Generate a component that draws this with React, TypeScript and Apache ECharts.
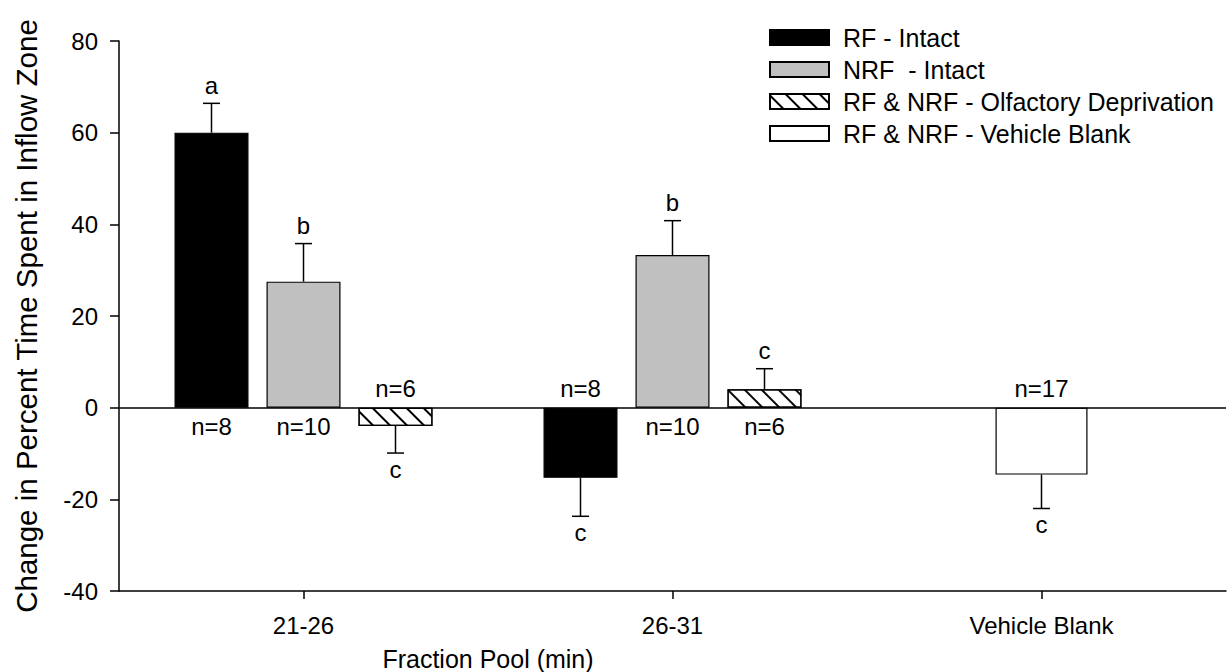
import React, { useEffect, useRef } from 'react';
import * as echarts from 'echarts';

// ---- data ----
const categories = ['21-26', '26-31', 'Vehicle Blank'];
const seriesNames = [
  'RF - Intact',
  'NRF  - Intact',
  'RF & NRF - Olfactory Deprivation',
  'RF & NRF - Vehicle Blank',
];
const rfIntact = [60.0, -15.3, null];
const nrfIntact = [27.5, 33.3, null];
const olfactoryDeprivation = [-4.0, 4.0, null];
const vehicleBlank = [null, null, -14.6];

const rfErr = [6.4, 8.4, null];
const nrfErr = [8.3, 7.5, null];
const odErr = [5.9, 4.5, null];
const vbErr = [null, null, 7.4];

const rfLetters = ['a', 'c', ''];
const nrfLetters = ['b', 'b', ''];
const odLetters = ['c', 'c', ''];
const vbLetters = ['', '', 'c'];

const rfN = ['n=8', 'n=8', ''];
const nrfN = ['n=10', 'n=10', ''];
const odN = ['n=6', 'n=6', ''];
const vbN = ['', '', 'n=17'];

const Y_MIN = -40;
const Y_MAX = 80;
const Y_STEP = 20;

const yTitle = 'Change in Percent Time Spent in Inflow Zone';
const xTitle = 'Fraction Pool (min)';

// ---- layout / style constants ----
const FONT = '"Liberation Sans", Arial, Helvetica, sans-serif';
const BAR_W = 74;
const BAR_GAP = 18;
const VB_BAR_W = 92;
const CAP = 17;
const GRID = { left: 119, right: 6, top: 41, bottom: 81 };

type Ann = { cat: number; value: number; err: number; letter: string; n: string; slot: number };

function buildAnnotations(): Ann[] {
  const groups = [
    { values: rfIntact, err: rfErr, letters: rfLetters, ns: rfN, slot: -1 },
    { values: nrfIntact, err: nrfErr, letters: nrfLetters, ns: nrfN, slot: 0 },
    { values: olfactoryDeprivation, err: odErr, letters: odLetters, ns: odN, slot: 1 },
    { values: vehicleBlank, err: vbErr, letters: vbLetters, ns: vbN, slot: 0 },
  ];
  const out: Ann[] = [];
  groups.forEach((g) =>
    g.values.forEach((v, i) => {
      if (v == null) return;
      out.push({ cat: i, value: v as number, err: (g.err[i] as number) || 0, letter: g.letters[i], n: g.ns[i], slot: g.slot });
    })
  );
  return out;
}

export default function App() {
  const ref = useRef<HTMLDivElement>(null);
  useEffect(() => {
    if (!ref.current) return;
    const chart = echarts.init(ref.current, null, { renderer: 'svg' });
    const annotations = buildAnnotations();
    const borderStyle = { borderColor: '#000', borderWidth: 1.2 };

    const option: any = {
      animation: false,
      backgroundColor: '#fff',
      textStyle: { fontFamily: FONT },
      grid: { ...GRID, containLabel: false },
      legend: {
        orient: 'vertical',
        left: 769,
        top: 25,
        padding: 0,
        itemWidth: 59,
        itemHeight: 15,
        itemGap: 7,
        icon: 'rect',
        data: seriesNames,
        textStyle: { fontSize: 25, color: '#000', fontFamily: FONT, padding: [0, 0, 0, 9] },
        selectedMode: false,
      },
      xAxis: [
        {
          type: 'category',
          data: categories,
          position: 'bottom',
          axisLine: { show: true, onZero: false, lineStyle: { color: '#000', width: 1.5 } },
          axisTick: { show: true, alignWithLabel: true, length: 8, lineStyle: { color: '#000', width: 1.5 } },
          axisLabel: { color: '#000', fontSize: 24, fontFamily: FONT, margin: 22 },
          splitLine: { show: false },
        },
        {
          type: 'category',
          data: categories,
          show: false,
          gridIndex: 0,
        },
      ],
      yAxis: {
        type: 'value',
        min: Y_MIN,
        max: Y_MAX,
        interval: Y_STEP,
        axisLine: { show: true, lineStyle: { color: '#000', width: 1.5 } },
        axisTick: { show: true, length: 9, lineStyle: { color: '#000', width: 1.5 } },
        axisLabel: { color: '#000', fontSize: 24, fontFamily: FONT, margin: 21 },
        splitLine: { show: false },
      },
      series: [
        {
          name: seriesNames[0],
          type: 'bar',
          xAxisIndex: 0,
          data: rfIntact,
          barWidth: BAR_W,
          barGap: `${(BAR_GAP / BAR_W) * 100}%`,
          itemStyle: { color: '#000', ...borderStyle },
          markLine: {
            silent: true,
            symbol: ['none', 'none'],
            label: { show: false },
            lineStyle: { color: '#000', type: 'solid', width: 1.5 },
            data: [{ yAxis: 0 }],
          },
        },
        {
          name: seriesNames[1],
          type: 'bar',
          xAxisIndex: 0,
          data: nrfIntact,
          barWidth: BAR_W,
          barGap: `${(BAR_GAP / BAR_W) * 100}%`,
          itemStyle: { color: '#c0c0c0', ...borderStyle },
        },
        {
          name: seriesNames[2],
          type: 'bar',
          xAxisIndex: 0,
          data: olfactoryDeprivation,
          barWidth: BAR_W,
          barGap: `${(BAR_GAP / BAR_W) * 100}%`,
          itemStyle: {
            color: '#fff',
            ...borderStyle,
            decal: {
              symbol: 'rect',
              symbolSize: 1,
              dashArrayX: [1, 0],
              dashArrayY: [1.5, 9.5],
              rotation: Math.PI / 4,
              color: '#000',
              backgroundColor: '#fff',
            },
          },
        },
        {
          name: seriesNames[3],
          type: 'bar',
          xAxisIndex: 1,
          data: vehicleBlank,
          barWidth: VB_BAR_W,
          itemStyle: { color: '#fff', ...borderStyle },
        },
        {
          type: 'custom',
          xAxisIndex: 0,
          yAxisIndex: 0,
          z: 10,
          silent: true,
          encode: { x: 0, y: 1 },
          data: annotations.map((a) => [a.cat, a.value]),
          renderItem: (params: any, api: any) => {
            const a = annotations[params.dataIndex];
            const sign = a.value >= 0 ? 1 : -1;
            const base = api.coord([a.cat, 0]);
            const x = base[0] + a.slot * (BAR_W + BAR_GAP);
            const y0 = base[1];
            const yv = api.coord([a.cat, a.value])[1];
            const ye = api.coord([a.cat, a.value + sign * a.err])[1];
            const ls = { stroke: '#000', lineWidth: 1.5 };
            const textStyle = {
              fontSize: 24,
              fontFamily: FONT,
              fill: '#000',
              align: 'center',
              verticalAlign: 'middle',
            };
            return {
              type: 'group',
              children: [
                { type: 'line', shape: { x1: x, y1: yv, x2: x, y2: ye }, style: ls },
                { type: 'line', shape: { x1: x - CAP / 2, y1: ye, x2: x + CAP / 2, y2: ye }, style: ls },
                {
                  type: 'text',
                  style: { ...textStyle, text: a.letter, x, y: sign > 0 ? ye - 18 : ye + 16 },
                },
                {
                  type: 'text',
                  style: { ...textStyle, text: a.n, x, y: y0 + sign * 19 },
                },
              ],
            };
          },
        },
      ],
      graphic: [
        {
          type: 'text',
          x: 26,
          y: 316,
          rotation: Math.PI / 2,
          style: {
            text: yTitle,
            fontSize: 29.5,
            fontFamily: FONT,
            fill: '#000',
            textAlign: 'center',
            textVerticalAlign: 'middle',
            align: 'center',
            verticalAlign: 'middle',
          },
        },
        {
          type: 'text',
          x: 488,
          y: 659,
          style: {
            text: xTitle,
            fontSize: 25,
            fontFamily: FONT,
            fill: '#000',
            textAlign: 'center',
            textVerticalAlign: 'middle',
            align: 'center',
            verticalAlign: 'middle',
          },
        },
      ],
    };
    chart.setOption(option);
    return () => chart.dispose();
  }, []);

  return <div ref={ref} style={{ width: 1232, height: 672, position: 'absolute', left: 0, top: 0, background: '#fff' }} />;
}
